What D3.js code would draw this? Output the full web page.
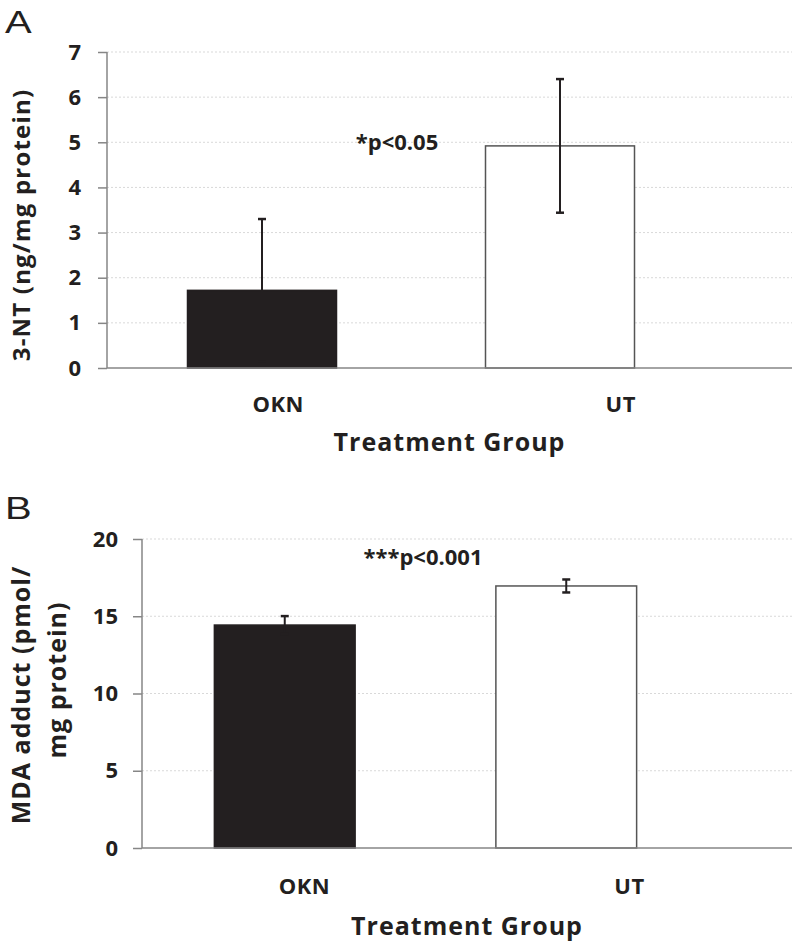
<!DOCTYPE html>
<html><head><meta charset="utf-8">
<script src="https://cdn.jsdelivr.net/npm/d3@7"></script>
<style>body{margin:0;background:#fff}svg{display:block}</style>
</head><body>
<svg id="c" width="800" height="950"></svg>
<script>
const categories = ["OKN", "UT"];
const ntValues = [1.72, 4.92];
const ntErrors = [1.58, 1.48];
const ntTicks = [0, 1, 2, 3, 4, 5, 6, 7];
const mdaValues = [14.43, 16.96];
const mdaErrors = [0.58, 0.42];
const mdaTicks = [0, 5, 10, 15, 20];
const fills = ["#231f20", "#ffffff"];

const svg = d3.select("#c");
const FONT = "'Open Sans', sans-serif";
const ink = "#231f20";

function panel(cfg) {
  const g = svg.append("g");
  const y = d3.scaleLinear().domain(cfg.domain).range([cfg.bottom, cfg.top]);
  const xCat = d3.scaleBand().domain(categories).range([cfg.left, cfg.right]);
  const xBar = d3.scaleBand().domain(categories).range(cfg.barRange).paddingInner(0.5).paddingOuter(0.25);

  // gridlines
  g.selectAll("line.grid").data(cfg.ticks.filter(t => t > 0)).join("line")
    .attr("x1", cfg.left).attr("x2", cfg.right)
    .attr("y1", d => y(d)).attr("y2", d => y(d))
    .attr("stroke", "#d9d9d9").attr("stroke-width", 1).attr("stroke-dasharray", "2,2");

  // bars
  g.selectAll("rect.bar").data(categories).join("rect")
    .attr("x", d => xBar(d)).attr("width", xBar.bandwidth())
    .attr("y", (d, i) => y(cfg.values[i]))
    .attr("height", (d, i) => y(0) - y(cfg.values[i]))
    .attr("fill", (d, i) => fills[i])
    .attr("stroke", (d, i) => i === 0 ? ink : "#555")
    .attr("stroke-width", 1.5);

  // error bars
  const eb = g.selectAll("g.eb").data(categories).join("g");
  const cx = d => xBar(d) + xBar.bandwidth() / 2;
  eb.append("line")
    .attr("x1", cx).attr("x2", cx)
    .attr("y1", (d, i) => y(cfg.values[i] + cfg.errors[i]))
    .attr("y2", (d, i) => y(cfg.values[i] - cfg.errors[i]))
    .attr("stroke", ink).attr("stroke-width", 2);
  [1, -1].forEach(s => {
    eb.append("line")
      .attr("x1", d => cx(d) - 4).attr("x2", d => cx(d) + 4)
      .attr("y1", (d, i) => y(cfg.values[i] + s * cfg.errors[i]))
      .attr("y2", (d, i) => y(cfg.values[i] + s * cfg.errors[i]))
      .attr("stroke", ink).attr("stroke-width", 2.5);
  });

  // y axis
  const yAx = g.append("g").attr("transform", `translate(${cfg.left},0)`)
    .call(d3.axisLeft(y).tickValues(cfg.ticks).tickSize(9).tickPadding(cfg.tickPad).tickFormat(d3.format("d")));
  yAx.selectAll("path,line").attr("stroke", "#868686").attr("stroke-width", 1.5);
  yAx.select("path").attr("d", `M0,${cfg.top}V${cfg.bottom}`);
  yAx.selectAll("text").attr("font-family", FONT).attr("font-weight", "bold")
    .attr("font-size", 22).attr("fill", ink);

  // x axis
  const xAx = g.append("g").attr("transform", `translate(0,${cfg.bottom})`)
    .call(d3.axisBottom(xCat).tickSize(0).tickPadding(cfg.xPad));
  xAx.select("path").attr("stroke", "#868686").attr("stroke-width", 1.5)
    .attr("d", `M${cfg.left},0H${cfg.right}`);
  xAx.selectAll("text").attr("font-family", FONT).attr("font-weight", "bold")
    .attr("font-size", 22).attr("letter-spacing", 0.5).attr("fill", ink);

  // x title
  g.append("text").attr("x", (cfg.left + cfg.right) / 2).attr("y", cfg.xTitleY)
    .attr("text-anchor", "middle").attr("font-family", FONT).attr("font-weight", "bold")
    .attr("font-size", 25).attr("letter-spacing", 1).attr("fill", ink).text("Treatment Group");

  // y title lines
  cfg.yTitle.forEach(t => {
    g.append("text").attr("transform", `translate(${t.x},${t.y}) rotate(-90)`)
      .attr("text-anchor", "middle").attr("font-family", FONT).attr("font-weight", "bold")
      .attr("font-size", t.size).attr("letter-spacing", t.ls).attr("fill", ink).text(t.text);
  });

  // significance
  g.append("text").attr("x", cfg.sig.x).attr("y", cfg.sig.y).attr("text-anchor", "middle")
    .attr("font-family", FONT).attr("font-weight", "bold").attr("font-size", 22)
    .attr("fill", ink).text(cfg.sig.text);

  // panel letter
  g.append("text").attr("transform", `translate(5,${cfg.letterY}) scale(1.25,1)`)
    .attr("font-family", "'Liberation Sans', Arial, sans-serif")
    .attr("font-size", 32).attr("fill", ink).text(cfg.letter);
}

panel({
  domain: [0, 7], top: 52, bottom: 368, left: 107, right: 792,
  barRange: [113, 709], ticks: ntTicks, values: ntValues, errors: ntErrors,
  tickPad: 17, xPad: 28, xTitleY: 451,
  yTitle: [{x: 30, y: 225, size: 24, ls: 1.2, text: "3-NT (ng/mg protein)"}],
  sig: {x: 397, y: 150, text: "*p<0.05"},
  letter: "A", letterY: 33
});

panel({
  domain: [0, 20], top: 539, bottom: 848, left: 142, right: 792,
  barRange: [144, 707], ticks: mdaTicks, values: mdaValues, errors: mdaErrors,
  tickPad: 15, xPad: 30, xTitleY: 935,
  yTitle: [{x: 30, y: 695, size: 25, ls: 1, text: "MDA adduct (pmol/"},
           {x: 66, y: 680, size: 25, ls: 1, text: "mg protein)"}],
  sig: {x: 423, y: 565, text: "***p<0.001"},
  letter: "B", letterY: 519
});
</script>
</body></html>
